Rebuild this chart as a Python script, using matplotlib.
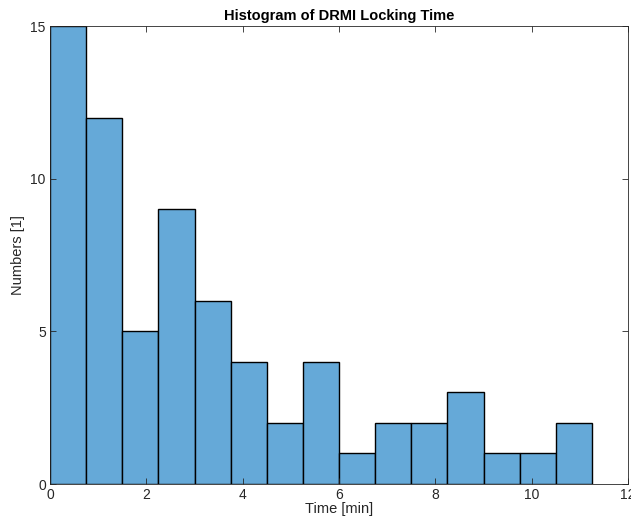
import numpy as np
import matplotlib.pyplot as plt

plt.rcParams['font.family'] = ['Liberation Sans', 'DejaVu Sans']

# histogram bins (minutes) and counts per bin
bin_edges = np.arange(0, 11.25 + 0.001, 0.75)
counts = [15, 12, 5, 9, 6, 4, 2, 4, 1, 2, 2, 3, 1, 1, 2]
x_ticks = [0, 2, 4, 6, 8, 10, 12]
y_ticks = [0, 5, 10, 15]

fig = plt.figure(figsize=(6.31, 5.19), dpi=100)
ax = fig.add_axes([50 / 631, 35 / 519, 578 / 631, 458 / 519])

ax.bar(bin_edges[:-1], counts, width=np.diff(bin_edges), align='edge',
       color='#65a9d8', edgecolor='black', linewidth=1.0)

ax.set_xlim(0, 12)
ax.set_ylim(0, 15)
ax.set_xticks(x_ticks)
ax.set_yticks(y_ticks)
ax.tick_params(direction='in', top=True, right=True, length=4, width=0.6,
               labelsize=10, colors='#262626', pad=3)
for s in ax.spines.values():
    s.set_linewidth(0.6)
    s.set_color('#262626')

ax.set_xlabel('Time [min]', fontsize=10.5, color='#262626', labelpad=0)
ax.set_ylabel('Numbers [1]', fontsize=10.5, color='#262626', labelpad=4)
ax.set_title('Histogram of DRMI Locking Time', fontsize=10.5, fontweight='bold', pad=4)

fig.savefig('out.png', dpi=100)
